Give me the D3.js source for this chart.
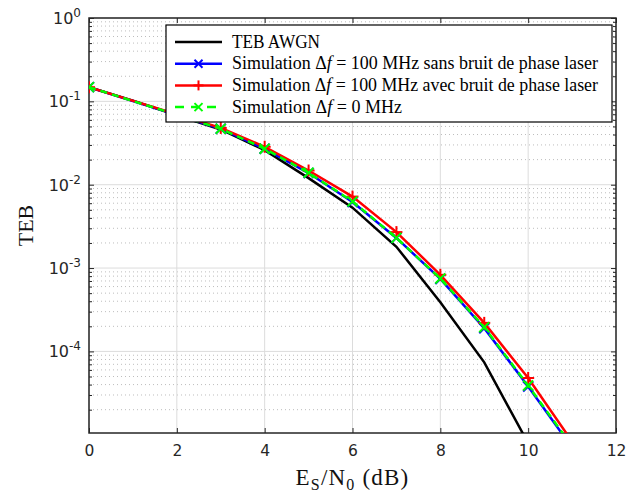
<!DOCTYPE html>
<html><head><meta charset="utf-8">
<script src="https://cdn.jsdelivr.net/npm/d3@7"></script>
<style>body{margin:0;background:#fff}svg{display:block}</style>
</head><body>
<svg id="c" width="627" height="498"></svg>
<script>
const awgnX = [0,1,2,3,4,5,6,7,8,9,10];
const awgn = [0.148,0.102,0.068,0.046,0.026,0.012,0.0053,0.0018,0.00039,0.000074,0.0000079];
const simX = [0,3,4,5,6,7,8,9,10,11];
const sans = [0.148,0.047,0.027,0.0138,0.0062,0.0023,0.00074,0.00019,0.000038,0.0000070];
const avec = [0.148,0.048,0.0285,0.0148,0.0072,0.0027,0.00083,0.00022,0.000048,0.0000083];
const zero = [0.148,0.047,0.027,0.0139,0.0063,0.0023,0.00075,0.000195,0.000039,0.0000073];
const xTicks = [0,2,4,6,8,10,12];
const yExps = [0,-1,-2,-3,-4];
const legendLabels = ["TEB AWGN","Simulation \u0394f = 100 MHz sans bruit de phase laser","Simulation \u0394f = 100 MHz avec bruit de phase laser","Simulation \u0394f = 0 MHz"];

const svg = d3.select("#c");
const L=89,R=616,T=18,B=433;
const x = d3.scaleLinear().domain([0,12]).range([L,R]);
const y = d3.scaleLog().domain([1.05e-5,1]).range([B,T]);

svg.append("defs").append("clipPath").attr("id","clip").append("rect")
  .attr("x",L).attr("y",T).attr("width",R-L).attr("height",B-T);

// minor horizontal grid
const minors=[];
for(let e=-5;e<0;e++){for(let m=2;m<=9;m++){const v=m*Math.pow(10,e); if(v>=1.05e-5&&v<1) minors.push(v);}}
svg.append("g").selectAll("line").data(minors).join("line")
  .attr("x1",L).attr("x2",R).attr("y1",d=>y(d)).attr("y2",d=>y(d))
  .attr("stroke","#bdbdbd").attr("stroke-width",1).attr("stroke-dasharray","1,3");
// major grid
svg.append("g").selectAll("line").data(yExps).join("line")
  .attr("x1",L).attr("x2",R).attr("y1",d=>y(Math.pow(10,d))).attr("y2",d=>y(Math.pow(10,d)))
  .attr("stroke","#dcdcdc").attr("stroke-width",1);
svg.append("g").selectAll("line").data(xTicks).join("line")
  .attr("y1",T).attr("y2",B).attr("x1",d=>x(d)).attr("x2",d=>x(d))
  .attr("stroke","#dcdcdc").attr("stroke-width",1);

// axes with inward ticks
const tc="#262626";
const axB=svg.append("g").attr("transform",`translate(0,${B})`).call(d3.axisBottom(x).tickValues(xTicks).tickSizeInner(-5).tickSizeOuter(0).tickPadding(12));
axB.selectAll("text").attr("font-family","DejaVu Sans").attr("font-size",15.5).attr("fill",tc);
const axT=svg.append("g").attr("transform",`translate(0,${T})`).call(d3.axisTop(x).tickValues(xTicks).tickSizeInner(-5).tickSizeOuter(0).tickFormat(""));
const axLm=svg.append("g").attr("transform",`translate(${L},0)`).call(d3.axisLeft(y).tickValues(minors).tickSizeInner(-3).tickSizeOuter(0).tickFormat(""));
const axRm=svg.append("g").attr("transform",`translate(${R},0)`).call(d3.axisRight(y).tickValues(minors).tickSizeInner(-3).tickSizeOuter(0).tickFormat(""));
const axL=svg.append("g").attr("transform",`translate(${L},0)`).call(d3.axisLeft(y).tickValues(yExps.map(e=>Math.pow(10,e))).tickSizeInner(-5).tickSizeOuter(0).tickFormat(""));
const axR=svg.append("g").attr("transform",`translate(${R},0)`).call(d3.axisRight(y).tickValues(yExps.map(e=>Math.pow(10,e))).tickSizeInner(-5).tickSizeOuter(0).tickFormat(""));
[axB,axT,axLm,axRm,axL,axR].forEach(a=>{a.select(".domain").remove();a.selectAll("line").attr("stroke","#262626");});
// y labels
const yl=svg.append("g").selectAll("text").data(yExps).join("text")
  .attr("x",L-8).attr("y",d=>y(Math.pow(10,d))+6).attr("text-anchor","end")
  .attr("font-family","DejaVu Sans").attr("font-size",16).attr("fill",tc);
yl.append("tspan").text("10");
yl.append("tspan").attr("dy",-7).attr("font-size",12).text(d=>d===0?"0":"-"+(-d));

// frame
svg.append("rect").attr("x",L).attr("y",T).attr("width",R-L).attr("height",B-T)
  .attr("fill","none").attr("stroke","#262626").attr("stroke-width",1.5);

// curves
const g=svg.append("g").attr("clip-path","url(#clip)");
const series=[
  {v:awgn,xv:awgnX,c:"#000000",dash:null,m:null},
  {v:sans,xv:simX,c:"#0000ff",dash:null,m:"x"},
  {v:avec,xv:simX,c:"#ff0000",dash:null,m:"+"},
  {v:zero,xv:simX,c:"#00ff00",dash:"7,5",m:"x"}
];
function marker(sel,type,c,px,py,s){
  if(type==="+"){
    sel.append("line").attr("x1",px-s).attr("x2",px+s).attr("y1",py).attr("y2",py).attr("stroke",c).attr("stroke-width",2);
    sel.append("line").attr("x1",px).attr("x2",px).attr("y1",py-s).attr("y2",py+s).attr("stroke",c).attr("stroke-width",2);
  } else if(type==="x"){
    sel.append("line").attr("x1",px-s).attr("x2",px+s).attr("y1",py-s).attr("y2",py+s).attr("stroke",c).attr("stroke-width",2);
    sel.append("line").attr("x1",px-s).attr("x2",px+s).attr("y1",py+s).attr("y2",py-s).attr("stroke",c).attr("stroke-width",2);
  }
}
series.forEach(s=>{
  const line=d3.line().x((d,i)=>x(s.xv[i])).y(d=>y(d));
  g.append("path").attr("d",line(s.v)).attr("fill","none").attr("stroke",s.c).attr("stroke-width",2.5)
   .attr("stroke-dasharray",s.dash);
  if(s.m) s.v.forEach((v,i)=>{ marker(g,s.m,s.c,x(s.xv[i]),y(v),s.m==="+"?6:5); });
});

// axis titles
svg.append("text").attr("transform",`translate(33,${(T+B)/2}) rotate(-90)`).attr("text-anchor","middle")
  .attr("font-family","Liberation Serif, serif").attr("font-size",22).attr("fill","#111").text("TEB");
const xt=svg.append("text").attr("x",(L+R)/2).attr("y",485).attr("text-anchor","middle")
  .attr("font-family","Liberation Serif, serif").attr("font-size",23).attr("letter-spacing",1.2).attr("fill","#111");
xt.append("tspan").text("E");
xt.append("tspan").attr("font-size",16).attr("dy",5).text("S");
xt.append("tspan").attr("dy",-5).text("/N");
xt.append("tspan").attr("font-size",16).attr("dy",5).text("0");
xt.append("tspan").attr("dy",-5).text(" (dB)");

// legend
const lg=svg.append("g");
lg.append("rect").attr("x",166).attr("y",25).attr("width",446).attr("height",97)
  .attr("fill","#fff").attr("stroke","#000").attr("stroke-width",1.2);
const legS=[series[0],series[1],series[2],series[3]];
const legW=[88,366,366,170];
legS.forEach((s,i)=>{
  const yy=42+i*21.7;
  lg.append("line").attr("x1",175).attr("x2",222).attr("y1",yy).attr("y2",yy)
    .attr("stroke",s.c).attr("stroke-width",2.5).attr("stroke-dasharray",s.dash?"9,7":null);
  if(s.m) marker(lg,s.m,s.c,198.5,yy,s.m==="+"?5:4);
  const t=lg.append("text").attr("x",232).attr("y",yy+5.5).attr("font-family","Liberation Serif, serif").attr("font-size",18).attr("fill","#000")
    .attr("textLength",legW[i]).attr("lengthAdjust","spacingAndGlyphs");
  const parts=legendLabels[i].split("f");
  if(i===0){t.text(legendLabels[i]);}
  else{t.append("tspan").text(parts[0]);t.append("tspan").attr("font-style","italic").text("f");t.append("tspan").text(parts[1]);}
});
</script>
</body></html>
